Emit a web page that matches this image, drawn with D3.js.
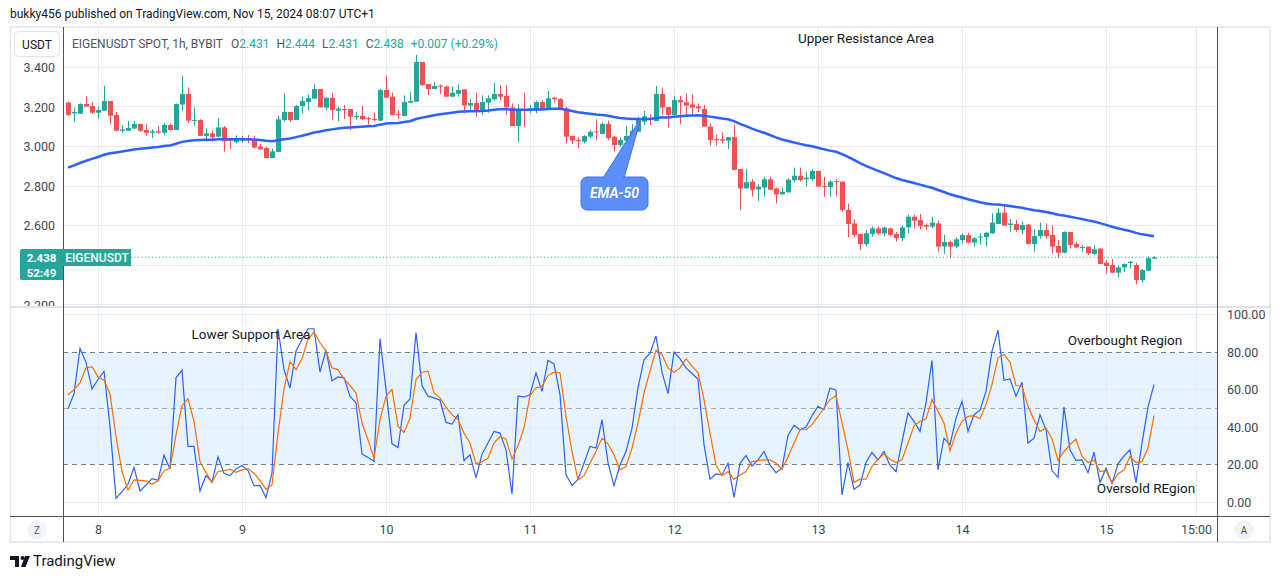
<!DOCTYPE html>
<html><head><meta charset="utf-8">
<script src="https://cdn.jsdelivr.net/npm/d3@7/dist/d3.min.js"></script>
<style>
body{margin:0;background:#fff}
svg{display:block}
text{font-family:Roboto,"Noto Sans",sans-serif}
</style></head>
<body><svg id="c" width="1281" height="579"></svg>
<script>
// ---------- DATA ----------
const firstHour = -5; // first candle: Nov 7 19:00 (hours relative to Nov 8 00:00)
const opens = [3.219,3.165,3.163,3.212,3.202,
3.168,3.178,3.227,3.157,3.077,3.077,3.088,3.111,3.081,3.067,
3.074,3.067,3.106,3.081,3.209,3.263,3.128,3.131,3.051,3.064,
3.047,3.094,3.030,3.019,3.027,3.040,3.034,2.997,2.990,2.939,
2.970,3.131,3.172,3.131,3.202,3.222,3.239,3.288,3.194,3.244,
3.178,3.187,3.187,3.146,3.152,3.141,3.136,3.128,3.283,3.249,
3.162,3.152,3.219,3.224,3.424,3.313,3.288,3.305,3.300,3.249,
3.264,3.286,3.204,3.217,3.173,3.219,3.236,3.263,3.253,3.195,
3.101,3.185,3.182,3.182,3.222,3.185,3.244,3.237,3.190,3.051,
3.030,3.022,3.047,3.074,3.061,3.111,3.047,3.005,3.027,3.047,
3.072,3.123,3.140,3.126,3.263,3.197,3.157,3.232,3.221,3.210,
3.200,3.187,3.098,3.035,3.034,3.027,3.045,2.884,2.786,2.820,
2.781,2.790,2.832,2.786,2.756,2.766,2.827,2.850,2.832,2.833,
2.874,2.798,2.793,2.823,2.820,2.677,2.609,2.556,2.505,2.556,
2.584,2.559,2.584,2.556,2.535,2.589,2.643,2.626,2.601,2.593,
2.609,2.492,2.515,2.492,2.525,2.550,2.512,2.537,2.539,2.559,
2.606,2.663,2.601,2.606,2.576,2.603,2.505,2.545,2.576,2.551,
2.495,2.461,2.566,2.505,2.487,2.492,2.455,2.482,2.411,2.399,
2.360,2.387,2.409,2.399,2.323,2.370,2.431];
const highs = [3.224,3.195,3.215,3.253,3.221,
3.199,3.303,3.227,3.172,3.106,3.126,3.125,3.111,3.111,3.084,
3.101,3.118,3.114,3.215,3.354,3.296,3.195,3.135,3.088,3.077,
3.140,3.101,3.037,3.054,3.051,3.056,3.051,3.010,2.997,2.987,
3.152,3.266,3.172,3.207,3.249,3.259,3.313,3.288,3.244,3.269,
3.199,3.207,3.187,3.172,3.202,3.148,3.168,3.288,3.354,3.269,
3.182,3.256,3.273,3.460,3.424,3.313,3.323,3.311,3.306,3.300,
3.310,3.286,3.239,3.269,3.256,3.256,3.318,3.308,3.308,3.215,
3.210,3.269,3.207,3.229,3.232,3.278,3.249,3.241,3.199,3.051,
3.044,3.054,3.081,3.135,3.118,3.128,3.051,3.044,3.101,3.111,
3.148,3.177,3.160,3.303,3.295,3.197,3.254,3.254,3.266,3.261,
3.215,3.207,3.114,3.056,3.069,3.045,3.109,2.884,2.884,2.833,
2.806,2.845,2.845,2.790,2.790,2.837,2.891,2.891,2.870,2.884,
2.874,2.845,2.828,2.833,2.820,2.710,2.630,2.556,2.576,2.593,
2.593,2.593,2.588,2.567,2.599,2.653,2.653,2.657,2.609,2.643,
2.623,2.551,2.522,2.539,2.559,2.562,2.539,2.559,2.567,2.660,
2.685,2.702,2.630,2.626,2.618,2.606,2.579,2.613,2.609,2.599,
2.525,2.569,2.566,2.517,2.500,2.492,2.500,2.483,2.424,2.429,
2.399,2.407,2.419,2.409,2.379,2.441,2.444];
const lows = [3.152,3.123,3.162,3.199,3.162,
3.138,3.178,3.111,3.077,3.067,3.077,3.088,3.071,3.051,3.040,
3.061,3.054,3.077,3.081,3.177,3.116,3.103,3.051,3.022,3.022,
3.044,2.971,2.985,3.013,3.017,3.015,2.988,2.980,2.939,2.939,
2.970,3.123,3.123,3.131,3.165,3.182,3.239,3.195,3.182,3.131,
3.125,3.136,3.081,3.131,3.131,3.108,3.125,3.128,3.244,3.157,
3.138,3.152,3.215,3.224,3.303,3.258,3.288,3.263,3.249,3.249,
3.249,3.165,3.178,3.148,3.155,3.168,3.229,3.232,3.157,3.101,
3.022,3.094,3.165,3.165,3.182,3.185,3.219,3.182,3.013,3.010,
2.988,3.013,3.039,3.030,3.061,3.030,2.971,2.997,3.013,3.044,
3.072,3.106,3.106,3.126,3.157,3.093,3.157,3.109,3.157,3.153,
3.170,3.098,3.002,3.002,3.013,2.985,2.879,2.675,2.786,2.744,
2.722,2.744,2.778,2.710,2.753,2.766,2.817,2.820,2.795,2.823,
2.795,2.744,2.744,2.744,2.668,2.539,2.539,2.475,2.492,2.542,
2.551,2.545,2.545,2.517,2.519,2.559,2.584,2.579,2.576,2.584,
2.466,2.455,2.433,2.483,2.508,2.508,2.492,2.503,2.492,2.556,
2.606,2.598,2.567,2.567,2.554,2.505,2.466,2.530,2.532,2.458,
2.433,2.458,2.483,2.483,2.466,2.450,2.450,2.404,2.354,2.360,
2.335,2.365,2.382,2.303,2.310,2.370,2.431];
const closes = [3.157,3.172,3.212,3.199,3.168,
3.182,3.227,3.153,3.077,3.084,3.091,3.111,3.077,3.067,3.074,
3.067,3.106,3.081,3.212,3.263,3.128,3.131,3.051,3.064,3.044,
3.094,3.024,3.027,3.039,3.040,3.027,2.992,2.983,2.939,2.973,
3.135,3.172,3.131,3.202,3.227,3.242,3.288,3.195,3.244,3.182,
3.189,3.182,3.148,3.152,3.136,3.136,3.133,3.283,3.244,3.157,
3.157,3.222,3.227,3.424,3.308,3.288,3.303,3.300,3.249,3.269,
3.283,3.204,3.217,3.173,3.222,3.241,3.263,3.249,3.195,3.101,
3.185,3.178,3.190,3.222,3.185,3.241,3.236,3.185,3.047,3.027,
3.024,3.051,3.072,3.069,3.111,3.040,3.005,3.030,3.051,3.077,
3.136,3.150,3.131,3.263,3.194,3.157,3.232,3.221,3.204,3.194,
3.190,3.098,3.030,3.029,3.027,3.045,2.879,2.786,2.817,2.779,
2.795,2.832,2.779,2.756,2.769,2.830,2.850,2.828,2.840,2.874,
2.795,2.793,2.820,2.820,2.677,2.606,2.551,2.505,2.559,2.584,
2.559,2.588,2.551,2.535,2.589,2.643,2.623,2.596,2.593,2.613,
2.492,2.515,2.492,2.529,2.550,2.512,2.534,2.542,2.562,2.613,
2.663,2.598,2.609,2.576,2.601,2.505,2.545,2.576,2.545,2.492,
2.461,2.566,2.500,2.487,2.490,2.458,2.478,2.404,2.394,2.360,
2.387,2.404,2.416,2.323,2.374,2.433,2.438];
const stochK = [49.6,57.5,81.8,74.5,60.2,
65.2,69.6,40.2,1.8,5.4,9.3,18.4,5.7,8.9,12.3,
11.4,24.8,17.5,66.1,70.2,29.5,29.5,5.7,13.9,10.5,
23.9,15.2,13.9,17.5,19.3,16.6,8.4,8.7,2.1,15.2,
92.3,70.5,60.7,80.4,86.6,92.3,92.3,69.1,80.9,64.5,
66.6,66.1,56.3,52.7,25.5,23.6,21.6,87.0,59.8,30.9,
28.9,51.4,54.8,90.2,62.0,56.3,55.4,54.1,42.3,41.4,
46.4,22.0,25.0,12.7,25.4,31.3,37.5,36.6,27.7,4.1,
56.3,55.9,57.1,68.8,58.9,75.4,73.6,57.1,14.3,8.6,
12.0,20.5,29.5,28.6,43.8,20.9,8.6,19.6,26.8,39.3,
60.7,75.9,79.1,88.4,69.1,57.7,79.8,76.3,71.4,68.4,
65.5,30.4,12.0,14.8,14.3,20.5,2.3,20.5,24.6,19.1,
22.3,26.8,19.6,15.5,17.9,35.4,40.7,38.4,39.8,45.9,
50.9,49.1,60.7,59.5,3.6,20.9,6.6,8.9,20.9,26.3,
22.3,26.8,19.3,16.1,32.1,47.3,42.9,37.5,52.7,75.5,
17.0,33.9,30.4,44.6,53.6,37.5,46.4,48.8,58.9,80.4,
91.6,64.8,65.5,56.3,63.8,31.3,33.9,46.4,38.4,16.6,
13.0,50.5,27.7,22.0,22.3,15.5,26.4,10.2,17.9,9.8,
20.2,24.5,27.7,10.2,31.3,50.5,62.5];
const stochD = [57.1,59.8,63.4,71.4,72.0,
66.6,64.8,57.5,34.8,16.1,6.2,11.6,11.4,11.1,9.3,
11.2,16.4,17.9,35.7,51.3,55.0,42.9,21.4,15.5,10.4,
16.1,16.6,17.3,15.7,17.0,17.7,15.2,11.2,6.6,8.9,
36.6,60.2,74.7,70.5,76.3,86.6,90.5,84.8,80.4,71.4,
70.5,65.5,62.0,58.0,42.0,33.0,23.2,43.8,56.3,59.8,
40.2,37.0,44.6,65.2,69.1,69.7,58.0,55.4,50.5,46.4,
43.8,36.6,31.3,20.2,21.4,23.2,31.3,34.8,33.4,22.7,
29.8,39.3,56.6,60.7,61.6,67.3,69.1,68.8,45.5,26.8,
11.6,13.9,20.5,26.8,33.9,30.9,25.0,17.0,18.8,28.6,
42.0,58.0,69.7,80.9,78.6,71.4,69.1,71.4,76.3,72.3,
68.8,54.5,36.6,19.6,13.9,16.1,12.0,14.3,16.1,21.4,
22.0,22.3,22.3,20.5,17.3,23.8,31.3,38.4,38.4,41.1,
45.5,50.0,54.5,56.6,42.0,27.7,10.2,12.0,12.0,18.8,
22.7,25.4,22.7,20.9,22.3,31.3,40.5,42.9,44.1,54.5,
48.2,42.0,27.1,36.6,42.9,45.5,45.9,44.3,51.8,62.5,
76.8,78.6,74.5,62.0,61.6,50.9,43.8,37.5,39.3,33.6,
22.0,26.8,30.4,33.4,24.1,20.9,22.3,16.1,16.6,9.8,
14.8,17.0,24.1,20.9,21.4,28.6,45.9];
const emaLength = 50;
const emaSeed = 2.880;          // EMA-50 value just before the first visible bar
const priceTicks = [3.4, 3.2, 3.0, 2.8, 2.6, 2.4, 2.2];
const stochTicks = [100, 80, 60, 40, 20, 0];
const stochLevels = {upper: 80, middle: 50, lower: 20};
const dayTicks = [8, 9, 10, 11, 12, 13, 14, 15];
const extraTick = {day: 15, hour: 15, label: "15:00"};
const lastPrice = 2.438, countdown = "52:49", symbol = "EIGENUSDT";
const legend = {name: "EIGENUSDT SPOT, 1h, BYBIT", o: "2.431", h: "2.444", l: "2.431", c: "2.438", chg: "+0.007 (+0.29%)"};

// ---------- SETUP ----------
const svg = d3.select("#c");
const FONT = 'Roboto,"Noto Sans",sans-serif';
const GRID = "#e3ebf2", AXIS = "#4f525c", TXT = "#434651";
const UP = "#26a69a", DN = "#ef5350";
const L = 63, R = 1217, mainTop = 27, mainBot = 306.5, stTop = 308, stBot = 516;

const hr = 3600e3, base = Date.UTC(2024, 10, 8);
const t = h => new Date(base + h * hr);
const x = d3.scaleUtc().domain([t(-35/6), t(186.5)]).range([L, R]);
const y = d3.scaleLinear().domain([2.2, 3.4]).range([304.4, 66.8]);
const ys = d3.scaleLinear().domain([0, 100]).range([501.7, 314.3]);

const bars = closes.map((c, i) => ({t: t(firstHour + i), o: opens[i], h: highs[i], l: lows[i], c}));
// EMA-50 of closes
let prev = emaSeed; const a = 2 / (emaLength + 1);
bars.forEach(b => { prev = a * b.c + (1 - a) * prev; b.ema = prev; });

const defs = svg.append("defs");
defs.append("clipPath").attr("id", "cm").append("rect").attr("x", L).attr("y", mainTop).attr("width", R - L).attr("height", mainBot - mainTop);
defs.append("clipPath").attr("id", "cs").append("rect").attr("x", L).attr("y", stTop).attr("width", R - L).attr("height", stBot - stTop);
defs.append("clipPath").attr("id", "cla").append("rect").attr("x", 10).attr("y", mainTop).attr("width", 60).attr("height", mainBot - mainTop - 0.5);

// header
svg.append("text").attr("x", 10).attr("y", 18).attr("font-size", 12).attr("fill", "#131722").text("bukky456 published on TradingView.com, Nov 15, 2024 08:07 UTC+1");

// frame
svg.append("rect").attr("x", 10.5).attr("y", 27).attr("width", 1259.5).attr("height", 515).attr("fill", "none").attr("stroke", "#e0e3eb").attr("stroke-width", 1.5);

// stoch band
svg.append("rect").attr("x", L).attr("y", ys(stochLevels.upper)).attr("width", R - L)
  .attr("height", ys(stochLevels.lower) - ys(stochLevels.upper)).attr("fill", "#e6f3fd");

// grids
const tickTimes = dayTicks.map(d => new Date(Date.UTC(2024, 10, d))).concat([new Date(Date.UTC(2024, 10, extraTick.day, extraTick.hour))]);
const g = svg.append("g");
g.selectAll(".vg").data(tickTimes).join("line").attr("x1", d => Math.round(x(d)) + .5).attr("x2", d => Math.round(x(d)) + .5)
  .attr("y1", mainTop).attr("y2", stBot).attr("stroke", GRID);
g.selectAll(".hg").data(priceTicks).join("line").attr("x1", L).attr("x2", R)
  .attr("y1", d => Math.round(y(d)) + .5).attr("y2", d => Math.round(y(d)) + .5).attr("stroke", GRID);
g.selectAll(".sg").data([100, 60, 40, 0]).join("line").attr("x1", L).attr("x2", R)
  .attr("y1", d => Math.round(ys(d)) + .5).attr("y2", d => Math.round(ys(d)) + .5).attr("stroke", GRID);
// dashed stoch levels
[[stochLevels.upper, "#787b86"], [stochLevels.middle, "#a9acb5"], [stochLevels.lower, "#787b86"]].forEach(([v, c]) => {
  svg.append("line").attr("x1", L).attr("x2", R).attr("y1", Math.round(ys(v)) + .5).attr("y2", Math.round(ys(v)) + .5)
    .attr("stroke", c).attr("stroke-dasharray", "5,4");
});

// pane separator
svg.append("line").attr("x1", 10).attr("x2", 1270).attr("y1", 307).attr("y2", 307).attr("stroke", "#d6d9e0").attr("stroke-width", 1.5);

// candles
const cg = svg.append("g").attr("clip-path", "url(#cm)");
const cx = d => Math.round(x(d.t));
cg.selectAll(".w").data(bars).join("line")
  .attr("x1", d => cx(d) + .5).attr("x2", d => cx(d) + .5)
  .attr("y1", d => y(d.h)).attr("y2", d => y(d.l))
  .attr("stroke", d => d.c >= d.o ? UP : DN);
cg.selectAll(".b").data(bars).join("rect")
  .attr("x", d => cx(d) - 2).attr("width", 5)
  .attr("y", d => y(Math.max(d.o, d.c)))
  .attr("height", d => Math.max(1, Math.abs(y(d.o) - y(d.c))))
  .attr("fill", d => d.c >= d.o ? UP : DN);
// EMA
cg.append("path").datum(bars).attr("fill", "none").attr("stroke", "#2962ff").attr("stroke-width", 2.5)
  .attr("d", d3.line().x(d => x(d.t)).y(d => y(d.ema)));

// last price dotted line
svg.append("line").attr("x1", 131).attr("x2", R).attr("y1", y(lastPrice)).attr("y2", y(lastPrice))
  .attr("stroke", UP).attr("stroke-dasharray", "1,2.5");

// stochastic
const sg = svg.append("g").attr("clip-path", "url(#cs)");
sg.append("path").datum(stochK).attr("fill", "none").attr("stroke", "#2962ff").attr("stroke-width", 1.2)
  .attr("d", d3.line().x((d, i) => x(t(firstHour + i))).y(d => ys(d)));
sg.append("path").datum(stochD).attr("fill", "none").attr("stroke", "#ff6d00").attr("stroke-width", 1.2)
  .attr("d", d3.line().x((d, i) => x(t(firstHour + i))).y(d => ys(d)));

// axes lines
svg.append("line").attr("x1", L + .5).attr("x2", L + .5).attr("y1", 27).attr("y2", 542).attr("stroke", AXIS);
svg.append("line").attr("x1", R + .5).attr("x2", R + .5).attr("y1", 27).attr("y2", 542).attr("stroke", AXIS);
svg.append("line").attr("x1", 10).attr("x2", 1270).attr("y1", stBot + .5).attr("y2", stBot + .5).attr("stroke", AXIS);

// price axis (clipped at pane separator; the label hidden under the last-price tag is not drawn)
const labelTicks = priceTicks.filter(v => Math.abs(y(v) - y(lastPrice)) > 12);
const pa = svg.append("g").attr("clip-path", "url(#cla)").append("g").attr("transform", `translate(${L},0)`)
  .call(d3.axisLeft(y).tickValues(labelTicks).tickSize(0).tickPadding(8).tickFormat(d3.format(".3f")));
pa.select(".domain").remove();
pa.selectAll("text").attr("font-size", 12.5).attr("fill", TXT).attr("font-family", FONT).attr("dy", "0.37em");
// stoch axis
const sa = svg.append("g").attr("transform", `translate(${R},0)`)
  .call(d3.axisRight(ys).tickValues(stochTicks).tickSize(0).tickPadding(10).tickFormat(d3.format(".2f")));
sa.select(".domain").remove();
sa.selectAll("text").attr("font-size", 12.5).attr("fill", TXT).attr("font-family", FONT).attr("dy", "0.37em");
// time axis
const ta = svg.append("g").attr("transform", `translate(0,${stBot})`)
  .call(d3.axisBottom(x).tickValues(tickTimes).tickSize(0).tickPadding(9.5)
    .tickFormat(d => d.getUTCHours() === extraTick.hour ? extraTick.label : String(d.getUTCDate())));
ta.select(".domain").remove();
ta.selectAll("text").attr("font-size", 12.5).attr("fill", TXT).attr("font-family", FONT);

// USDT button
svg.append("rect").attr("x", 14.5).attr("y", 31.5).attr("width", 45).attr("height", 25).attr("rx", 4)
  .attr("fill", "#fff").attr("stroke", "#e0e3eb");
svg.append("text").attr("x", 37).attr("y", 48.5).attr("text-anchor", "middle").attr("font-size", 12).attr("fill", "#131722").text("USDT");

// legend (laid out sequentially)
const lg = svg.append("text").attr("y", 47.5).attr("font-size", 12);
const parts = [[legend.name, "#50535e", 0], ["O", "#50535e", 8], [legend.o, UP, 0], ["H", "#50535e", 7], [legend.h, UP, 0],
  ["L", "#50535e", 7], [legend.l, UP, 0], ["C", "#50535e", 7], [legend.c, UP, 0], [legend.chg, UP, 7]];
let px = 72;
parts.forEach(([s, c, gap]) => {
  px += gap;
  const sp = lg.append("tspan").attr("x", px).attr("fill", c).text(s);
  px += sp.node().getComputedTextLength();
});

// last price label
svg.append("path").attr("d", "M63,249 H22 a2,2 0 0 0 -2,2 V278 a2,2 0 0 0 2,2 H63 Z").attr("fill", UP);
svg.append("text").attr("x", 41.5).attr("y", 261.5).attr("text-anchor", "middle").attr("font-size", 11.5).attr("font-weight", 700).attr("fill", "#fff").text(lastPrice.toFixed(3));
svg.append("text").attr("x", 41.5).attr("y", 276.5).attr("text-anchor", "middle").attr("font-size", 11.5).attr("font-weight", 700).attr("fill", "#fff").text(countdown);
svg.append("rect").attr("x", 63).attr("y", 249).attr("width", 68).attr("height", 17).attr("fill", UP);
svg.append("text").attr("x", 97).attr("y", 261.5).attr("text-anchor", "middle").attr("font-size", 12).attr("font-weight", 500).attr("fill", "#fff").text(symbol);

// Z / A buttons
[[37, "Z"], [1244, "A"]].forEach(([bx, s]) => {
  svg.append("circle").attr("cx", bx).attr("cy", 530).attr("r", 9.5).attr("fill", "#f0f3fa");
  svg.append("text").attr("x", bx).attr("y", 534).attr("text-anchor", "middle").attr("font-size", 10).attr("fill", "#50535e").text(s);
});

// annotations
const ann = [[866, 43, "Upper Resistance Area"], [251, 339, "Lower Support Area"], [1125, 345, "Overbought Region"], [1146, 493, "Oversold REgion"]];
ann.forEach(([ax, ay, s]) => svg.append("text").attr("x", ax).attr("y", ay).attr("text-anchor", "middle")
  .attr("font-size", 13.5).attr("font-family", '"Noto Sans",sans-serif').attr("fill", "#131722").text(s));

// EMA-50 callout
svg.append("path").attr("d", "M603,178 L641,118 L624,178 Z").attr("fill", "#5b8ef7").attr("stroke", "#3e72ea").attr("stroke-width", 1);
svg.append("rect").attr("x", 581).attr("y", 177).attr("width", 67).attr("height", 33).attr("rx", 6)
  .attr("fill", "#5b8ef7").attr("stroke", "#3e72ea");
svg.append("rect").attr("x", 604).attr("y", 176).attr("width", 19).attr("height", 3).attr("fill", "#5b8ef7");
svg.append("text").attr("x", 614.5).attr("y", 198).attr("text-anchor", "middle").attr("font-size", 14)
  .attr("font-style", "italic").attr("font-weight", 600).attr("fill", "#fff").text("EMA-50");

// TradingView logo
const lgo = svg.append("g").attr("fill", "#131722");
lgo.append("path").attr("d", "M10,556 H19 V567 H15 V560 H10 Z");
lgo.append("circle").attr("cx", 22.5).attr("cy", 558).attr("r", 2);
lgo.append("path").attr("d", "M25,556 H30 L25.5,567 H21 Z");
svg.append("text").attr("x", 33).attr("y", 566).attr("font-size", 15).attr("fill", "#131722").text("TradingView");
</script></body></html>
